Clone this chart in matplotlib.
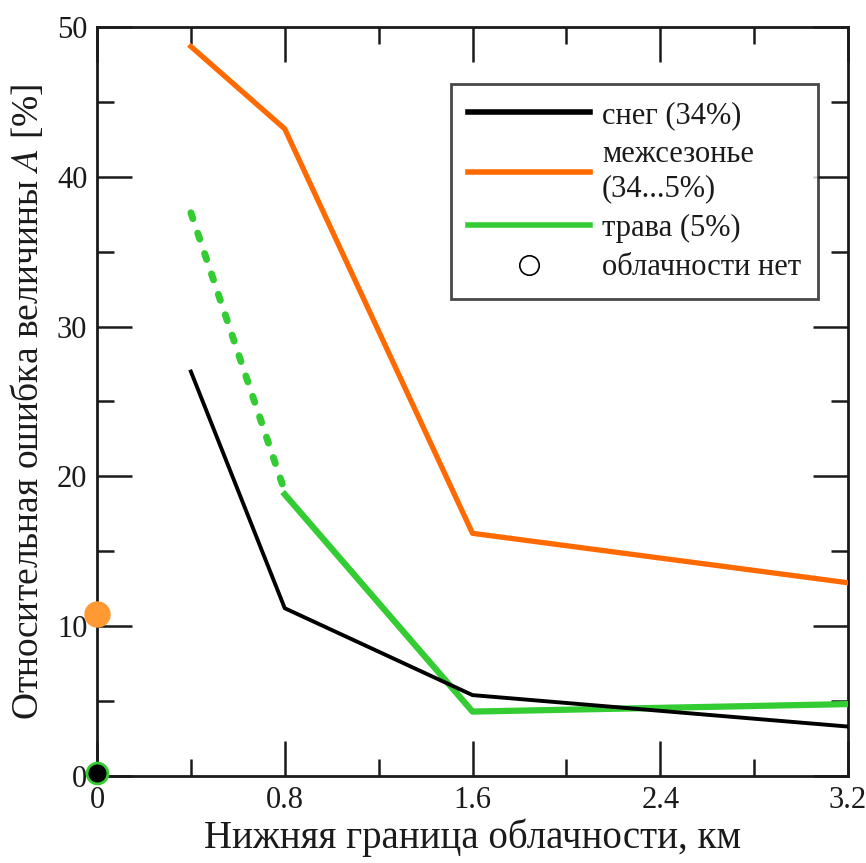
import numpy as np
import matplotlib.pyplot as plt
from matplotlib.lines import Line2D
from matplotlib.ticker import MultipleLocator

# данные
x_pts = [0.4, 0.8, 1.6, 3.2]
snow = [27.0, 11.2, 5.4, 3.3]
offseason = [48.7, 43.2, 16.2, 12.9]
grass_dot_x = [0.4, 0.8]
grass_dot = [37.6, 19.0]
grass_x = [0.8, 1.6, 3.2]
grass = [18.8, 4.3, 4.8]
clear_offseason = 10.8
clear_snow = 0.2

plt.rcParams['font.family'] = ['Liberation Serif', 'DejaVu Serif']
plt.rcParams['mathtext.fontset'] = 'stix'

fig = plt.figure(figsize=(8.66, 8.63), dpi=100)
ax = fig.add_axes([97 / 866, 1 - 776 / 863, 751 / 866, 749 / 863])

ORANGE = '#ff6a00'
GREEN = '#33cc33'
TXT = '#1a1a1a'

ax.plot(x_pts, offseason, color=ORANGE, lw=3.8, zorder=3)
ax.plot(x_pts, snow, color='black', lw=2.8, zorder=4)
ax.plot(grass_dot_x, grass_dot, color=GREEN, lw=5, linestyle=(0, (0.9, 2.2)),
        dash_capstyle='round', zorder=3)
ax.plot(grass_x, grass, color=GREEN, lw=4.5, zorder=3)

ax.plot([0], [clear_offseason], 'o', ms=18, color='#ff9933', mec='#ff9933', clip_on=False, zorder=5)
ax.plot([0], [clear_snow], 'o', ms=15, color='black', mec=GREEN, mew=2, clip_on=False, zorder=5)

ax.set_xlim(0, 3.2)
ax.set_ylim(0, 50)
ax.xaxis.set_major_locator(MultipleLocator(0.8))
ax.xaxis.set_minor_locator(MultipleLocator(0.4))
ax.yaxis.set_major_locator(MultipleLocator(10))
ax.yaxis.set_minor_locator(MultipleLocator(5))
ax.xaxis.set_major_formatter(plt.FuncFormatter(lambda v, p: '0' if v == 0 else f'{v:.1f}'))

ax.tick_params(which='both', direction='in', top=True, right=True, width=1.8,
               labelsize=22, colors=TXT)
ax.tick_params(which='major', length=25, pad=7)
ax.tick_params(which='minor', length=12)
for s in ax.spines.values():
    s.set_linewidth(2)
    s.set_color(TXT)

ax.set_xlabel('Нижняя граница облачности, км', fontsize=28, labelpad=3, color=TXT)
ax.set_ylabel('Относительная ошибка величины $A$ [%]', fontsize=27,
              labelpad=8, color=TXT)

handles = [
    Line2D([], [], color='black', lw=4),
    Line2D([], [], color=ORANGE, lw=4),
    Line2D([], [], color=GREEN, lw=4),
    Line2D([], [], ls='none', marker='o', ms=14, mfc='white', mec='black', mew=1.2),
]
labels = ['снег (34%)', 'межсезонье\n(34...5%)', 'трава (5%)', 'облачности нет']
leg = ax.legend(handles, labels, loc='upper right', bbox_to_anchor=(0.960, 0.924),
                borderaxespad=0, fontsize=22, frameon=True, fancybox=False, edgecolor=TXT,
                handlelength=4.0, handletextpad=0.4, labelspacing=0.35, borderpad=0.55)
leg.get_frame().set_linewidth(2)
for t in leg.get_texts():
    t.set_color(TXT)

fig.savefig('out.png', dpi=100)
